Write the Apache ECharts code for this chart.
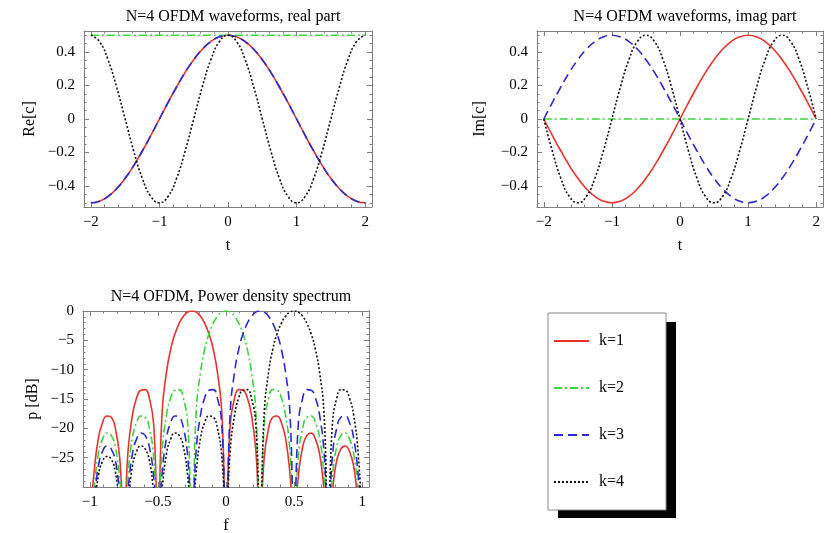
<!DOCTYPE html>
<html>
<head>
<meta charset="utf-8">
<title>OFDM waveforms</title>
<script src="https://cdn.jsdelivr.net/npm/echarts@6/dist/echarts.min.js"></script>
<style>
  html, body { margin: 0; padding: 0; background: #fff; }
  #main { width: 831px; height: 533px; }
</style>
</head>
<body>
<div id="main"></div>
<script>
// time axis samples (t)
var tVals = [-2,-1.875,-1.75,-1.625,-1.5,-1.375,-1.25,-1.125,-1,-0.875,-0.75,-0.625,-0.5,-0.375,-0.25,-0.125,0,
             0.125,0.25,0.375,0.5,0.625,0.75,0.875,1,1.125,1.25,1.375,1.5,1.625,1.75,1.875,2];

// real parts
var reK1 = [-0.5,-0.49,-0.462,-0.416,-0.354,-0.278,-0.191,-0.098,0,0.098,0.191,0.278,0.354,0.416,0.462,0.49,0.5,
            0.49,0.462,0.416,0.354,0.278,0.191,0.098,0,-0.098,-0.191,-0.278,-0.354,-0.416,-0.462,-0.49,-0.5];
var reK2 = [0.5,0.5,0.5,0.5,0.5,0.5,0.5,0.5,0.5,0.5,0.5,0.5,0.5,0.5,0.5,0.5,0.5,
            0.5,0.5,0.5,0.5,0.5,0.5,0.5,0.5,0.5,0.5,0.5,0.5,0.5,0.5,0.5,0.5];
var reK3 = [-0.5,-0.49,-0.462,-0.416,-0.354,-0.278,-0.191,-0.098,0,0.098,0.191,0.278,0.354,0.416,0.462,0.49,0.5,
            0.49,0.462,0.416,0.354,0.278,0.191,0.098,0,-0.098,-0.191,-0.278,-0.354,-0.416,-0.462,-0.49,-0.5];
var reK4 = [0.5,0.462,0.354,0.191,0,-0.191,-0.354,-0.462,-0.5,-0.462,-0.354,-0.191,0,0.191,0.354,0.462,0.5,
            0.462,0.354,0.191,0,-0.191,-0.354,-0.462,-0.5,-0.462,-0.354,-0.191,0,0.191,0.354,0.462,0.5];

// imaginary parts
var imK1 = [0,-0.098,-0.191,-0.278,-0.354,-0.416,-0.462,-0.49,-0.5,-0.49,-0.462,-0.416,-0.354,-0.278,-0.191,-0.098,0,
            0.098,0.191,0.278,0.354,0.416,0.462,0.49,0.5,0.49,0.462,0.416,0.354,0.278,0.191,0.098,0];
var imK2 = [0,0,0,0,0,0,0,0,0,0,0,0,0,0,0,0,0,
            0,0,0,0,0,0,0,0,0,0,0,0,0,0,0,0];
var imK3 = [0,0.098,0.191,0.278,0.354,0.416,0.462,0.49,0.5,0.49,0.462,0.416,0.354,0.278,0.191,0.098,0,
            -0.098,-0.191,-0.278,-0.354,-0.416,-0.462,-0.49,-0.5,-0.49,-0.462,-0.416,-0.354,-0.278,-0.191,-0.098,0];
var imK4 = [0,-0.191,-0.354,-0.462,-0.5,-0.462,-0.354,-0.191,0,0.191,0.354,0.462,0.5,0.462,0.354,0.191,0,
            -0.191,-0.354,-0.462,-0.5,-0.462,-0.354,-0.191,0,0.191,0.354,0.462,0.5,0.462,0.354,0.191,0];

// frequency samples (f)
var fVals = [-1,-0.96875,-0.9375,-0.90625,-0.875,-0.84375,-0.8125,-0.78125,-0.75,-0.71875,-0.6875,-0.65625,
             -0.625,-0.59375,-0.5625,-0.53125,-0.5,-0.46875,-0.4375,-0.40625,-0.375,-0.34375,-0.3125,-0.28125,
             -0.25,-0.21875,-0.1875,-0.15625,-0.125,-0.09375,-0.0625,-0.03125,0,
             0.03125,0.0625,0.09375,0.125,0.15625,0.1875,0.21875,0.25,0.28125,0.3125,0.34375,0.375,0.40625,
             0.4375,0.46875,0.5,0.53125,0.5625,0.59375,0.625,0.65625,0.6875,0.71875,0.75,0.78125,0.8125,
             0.84375,0.875,0.90625,0.9375,0.96875,1];

// power density in dB (nulls drop below the -30 floor)
var psdK1 = [-36,-27.5,-21.7,-19.0,-17.9,-18.1,-20.0,-24.8,
             -36,-23.7,-17.8,-14.8,-13.5,-13.4,-14.9,-19.3,
             -36,-17.1,-10.5,-6.5,-3.9,-2.1,-0.9,-0.2,
             0,-0.2,-0.9,-2.1,-3.9,-6.5,-10.5,-17.1,
             -36,-19.3,-14.9,-13.4,-13.5,-14.8,-17.8,-23.7,
             -36,-24.8,-20.0,-18.1,-17.9,-19.0,-21.7,-27.5,
             -36,-28.2,-23.2,-21.2,-20.8,-21.8,-24.4,-30.1,
             -36,-30.6,-25.5,-23.5,-23.0,-23.9,-26.5,-32.0,
             -36];
var psdK2 = [-36,-30.1,-24.4,-21.8,-20.8,-21.2,-23.2,-28.2,
             -36,-27.5,-21.7,-19.0,-17.9,-18.1,-20.0,-24.8,
             -36,-23.7,-17.8,-14.8,-13.5,-13.4,-14.9,-19.3,
             -36,-17.1,-10.5,-6.5,-3.9,-2.1,-0.9,-0.2,
             0,-0.2,-0.9,-2.1,-3.9,-6.5,-10.5,-17.1,
             -36,-19.3,-14.9,-13.4,-13.5,-14.8,-17.8,-23.7,
             -36,-24.8,-20.0,-18.1,-17.9,-19.0,-21.7,-27.5,
             -36,-28.2,-23.2,-21.2,-20.8,-21.8,-24.4,-30.1,
             -36];
var psdK3 = [-36,-32.0,-26.5,-23.9,-23.0,-23.5,-25.5,-30.6,
             -36,-30.1,-24.4,-21.8,-20.8,-21.2,-23.2,-28.2,
             -36,-27.5,-21.7,-19.0,-17.9,-18.1,-20.0,-24.8,
             -36,-23.7,-17.8,-14.8,-13.5,-13.4,-14.9,-19.3,
             -36,-17.1,-10.5,-6.5,-3.9,-2.1,-0.9,-0.2,
             0,-0.2,-0.9,-2.1,-3.9,-6.5,-10.5,-17.1,
             -36,-19.3,-14.9,-13.4,-13.5,-14.8,-17.8,-23.7,
             -36,-24.8,-20.0,-18.1,-17.9,-19.0,-21.7,-27.5,
             -36];
var psdK4 = [-36,-33.7,-28.1,-25.6,-24.8,-25.2,-27.4,-32.5,
             -36,-32.0,-26.5,-23.9,-23.0,-23.5,-25.5,-30.6,
             -36,-30.1,-24.4,-21.8,-20.8,-21.2,-23.2,-28.2,
             -36,-27.5,-21.7,-19.0,-17.9,-18.1,-20.0,-24.8,
             -36,-23.7,-17.8,-14.8,-13.5,-13.4,-14.9,-19.3,
             -36,-17.1,-10.5,-6.5,-3.9,-2.1,-0.9,-0.2,
             0,-0.2,-0.9,-2.1,-3.9,-6.5,-10.5,-17.1,
             -36,-19.3,-14.9,-13.4,-13.5,-14.8,-17.8,-23.7,
             -36];

var names = ['k=1', 'k=2', 'k=3', 'k=4'];
var colors = ['#e8322e', '#3ad63a', '#2a2ad4', '#111111'];
var dashes = ['solid', [8, 3, 2, 3], [9, 5], [2, 2]];

var serif = "'Liberation Serif', 'Times New Roman', serif";
var frameColor = '#808080';

function minusSign(v) {
    return String(v).replace('-', '\u2212');
}

function pair(xs, ys) {
    return xs.map(function (x, i) { return [x, ys[i]]; });
}

// one bottom/top x axis pair and left/right y axis pair per panel
function xAx(grid, min, max, split, minor, name, top) {
    return {
        gridIndex: grid, type: 'value', position: top ? 'top' : 'bottom',
        min: min, max: max, splitNumber: split,
        name: top ? '' : name, nameLocation: 'middle', nameGap: 31,
        nameTextStyle: { fontFamily: serif, fontSize: 16, color: '#000' },
        axisLine: { show: true, onZero: false, lineStyle: { color: frameColor, width: 1 } },
        axisTick: { show: true, inside: true, length: 5, lineStyle: { color: frameColor } },
        minorTick: { show: true, splitNumber: minor, length: 2.5, lineStyle: { color: frameColor } },
        splitLine: { show: false },
        axisLabel: {
            show: !top, showMinLabel: false, showMaxLabel: false, margin: 8,
            fontFamily: serif, fontSize: 15, color: '#000', formatter: minusSign
        }
    };
}

function yAx(grid, min, max, split, interval, minor, name, gap, showMax, right) {
    var ax = {
        gridIndex: grid, type: 'value', position: right ? 'right' : 'left',
        min: min, max: max, splitNumber: split,
        name: right ? '' : name, nameLocation: 'middle', nameGap: gap,
        nameTextStyle: { fontFamily: serif, fontSize: 16, color: '#000' },
        axisLine: { show: true, onZero: false, lineStyle: { color: frameColor, width: 1 } },
        axisTick: { show: true, inside: true, length: 5, lineStyle: { color: frameColor } },
        minorTick: { show: true, splitNumber: minor, length: 2.5, lineStyle: { color: frameColor } },
        splitLine: { show: false },
        axisLabel: {
            show: !right, showMinLabel: false, showMaxLabel: showMax, margin: 9,
            fontFamily: serif, fontSize: 15, color: '#000', formatter: minusSign
        }
    };
    if (interval) ax.interval = interval;
    return ax;
}

function lines(xIdx, xs, ysList) {
    return ysList.map(function (ys, k) {
        return {
            name: names[k], type: 'line', xAxisIndex: xIdx, yAxisIndex: xIdx,
            data: pair(xs, ys), smooth: true, symbol: 'none', clip: true,
            lineStyle: { color: colors[k], width: 1.6, type: dashes[k] },
            itemStyle: { color: colors[k] },
            z: 2 + k
        };
    });
}

var chart = echarts.init(document.getElementById('main'), null, { renderer: 'canvas' });

var titleStyle = { fontFamily: serif, fontSize: 16, fontWeight: 'normal', color: '#000' };

var option = {
    backgroundColor: '#fff',
    animation: false,
    title: [
        { text: 'N=4 OFDM waveforms, real part', left: 228, top: 4, textAlign: 'center', textStyle: titleStyle },
        { text: 'N=4 OFDM waveforms, imag part', left: 680, top: 4, textAlign: 'center', textStyle: titleStyle },
        { text: 'N=4 OFDM, Power density spectrum', left: 226, top: 284, textAlign: 'center', textStyle: titleStyle }
    ],
    // hard drop shadow behind the legend box
    graphic: [
        { type: 'rect', z: 0, shape: { x: 558, y: 322, width: 118, height: 196 }, style: { fill: '#000' } }
    ],
    grid: [
        { left: 84, top: 31, width: 288, height: 176, outerBoundsMode: 'none' },
        { left: 537, top: 31, width: 286, height: 176, outerBoundsMode: 'none' },
        { left: 83, top: 311, width: 286, height: 176, outerBoundsMode: 'none' }
    ],
    xAxis: [
        xAx(0, -2.1, 2.1, 4, 5, 't', false),
        xAx(1, -2.1, 2.1, 4, 5, 't', false),
        xAx(2, -1.05, 1.05, 4, 5, 'f', false),
        xAx(0, -2.1, 2.1, 4, 5, '', true),
        xAx(1, -2.1, 2.1, 4, 5, '', true),
        xAx(2, -1.05, 1.05, 4, 5, '', true)
    ],
    yAxis: [
        yAx(0, -0.525, 0.525, 5, null, 4, 'Re[c]', 46, false, false),
        yAx(1, -0.525, 0.525, 5, null, 4, 'Im[c]', 49, false, false),
        yAx(2, -30, 0, 6, 5, 5, 'p [dB]', 42, true, false),
        yAx(0, -0.525, 0.525, 5, null, 4, '', 0, false, true),
        yAx(1, -0.525, 0.525, 5, null, 4, '', 0, false, true),
        yAx(2, -30, 0, 6, 5, 5, '', 0, false, true)
    ],
    legend: {
        orient: 'vertical', left: 548, top: 313, z: 5,
        data: names,
        itemWidth: 35, itemHeight: 14, itemGap: 31,
        padding: [20, 42, 20, 5],
        backgroundColor: '#fff', borderColor: '#888', borderWidth: 1, borderRadius: 0,
        selectedMode: false,
        itemStyle: { opacity: 0 },
        textStyle: { fontFamily: serif, fontSize: 16, color: '#000', lineHeight: 14, padding: [0, 0, 0, 5] }
    },
    series: [].concat(
        lines(0, tVals, [reK1, reK2, reK3, reK4]),
        lines(1, tVals, [imK1, imK2, imK3, imK4]),
        lines(2, fVals, [psdK1, psdK2, psdK3, psdK4])
    )
};

chart.setOption(option);
</script>
</body>
</html>
